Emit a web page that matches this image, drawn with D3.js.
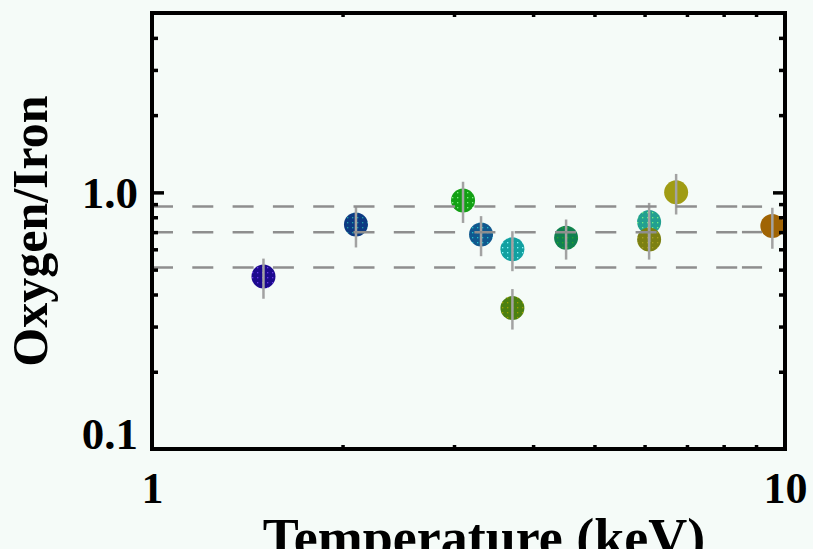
<!DOCTYPE html>
<html>
<head>
<meta charset="utf-8">
<script src="https://cdn.jsdelivr.net/npm/d3@7"></script>
<style>
  html, body { margin: 0; padding: 0; background: #f5fbf8; }
  svg { display: block; }
  text { font-family: "Liberation Serif", "DejaVu Serif", serif; font-weight: bold; fill: #000; }
</style>
</head>
<body>
<svg id="chart" width="813" height="549"></svg>
<script>
// Temperature (keV) of each cluster and its measured O/Fe ratio with error range
const temps    = [1.50, 2.10, 3.10, 3.31, 3.71, 3.71, 4.51, 6.10, 6.10, 6.73, 9.55];
const ratios   = [0.470, 0.750, 0.930, 0.685, 0.600, 0.354, 0.665, 0.766, 0.655, 1.000, 0.739];
const errLow   = [0.385, 0.610, 0.760, 0.564, 0.493, 0.292, 0.547, 0.640, 0.547, 0.820, 0.603];
const errHigh  = [0.552, 0.880, 1.100, 0.808, 0.706, 0.420, 0.784, 0.910, 0.770, 1.180, 0.871];
const fillColors = ["#1c0a8e", "#0c3a82", "#12a014", "#10588e", "#12a0a0", "#4c8010",
                    "#108050", "#22a090", "#7c8012", "#a09c14", "#a06404"];
const dotColors  = ["#6a3ae6", "#22a0a6", "#7ef07e", "#22c0c8", "#86f6f6", "#a0a000",
                    "#22a828", "#70f080", "#a8a020", "#a09c14", "#a06404"];

// Reference levels (horizontal dashed lines) and their extent in keV
const levels     = [0.88, 0.70, 0.51];
const levelSpan  = [1.0, 8.45];
const levelTail  = [8.55, 9.2];

// Axis ranges and ticks
const xDomain = [1, 10];
const yDomain = [0.1, 5];
const xMajorTicks = [1, 10];
const xMajorLabels = ["1", "10"];
const xMinorTicks = [2, 3, 4, 5, 6, 7, 8, 9];
const yMajorTicks = [0.1, 1];
const yMajorLabels = ["0.1", "1.0"];
const yMinorTicks = [0.2, 0.3, 0.4, 0.5, 0.6, 0.7, 0.8, 0.9, 2, 3, 4];

const xTitle = "Temperature (keV)";
const yTitle = "Oxygen/Iron";

const svg = d3.select("#chart");
const plot = { left: 152, right: 785, top: 13, bottom: 449 };

const x = d3.scaleLog().domain(xDomain).range([plot.left, plot.right]);
const y = d3.scaleLog().domain(yDomain).range([plot.bottom, plot.top]);

// Dotted fill textures for the markers
const defs = svg.append("defs");
temps.forEach((t, i) => {
  const p = defs.append("pattern")
    .attr("id", "dots-" + i)
    .attr("patternUnits", "userSpaceOnUse")
    .attr("width", 5).attr("height", 5);
  p.append("rect").attr("width", 5).attr("height", 5).attr("fill", fillColors[i]);
  p.append("rect").attr("x", 2).attr("y", 2).attr("width", 1.3).attr("height", 1.3)
    .attr("fill", dotColors[i]);
});

const pts = temps.map((t, i) => ({ t, r: ratios[i], lo: errLow[i], hi: errHigh[i], i }));

// Markers
svg.append("g").selectAll("circle").data(pts).join("circle")
  .attr("cx", d => x(d.t))
  .attr("cy", d => y(d.r))
  .attr("r", 12)
  .attr("fill", d => `url(#dots-${d.i})`);

// Error bars
svg.append("g").selectAll("line").data(pts).join("line")
  .attr("x1", d => x(d.t)).attr("x2", d => x(d.t))
  .attr("y1", d => y(d.hi)).attr("y2", d => y(d.lo))
  .attr("stroke", "#a2a2a2").attr("stroke-width", 2.5);

// Dashed reference levels
const lv = svg.append("g").attr("stroke", "#8e8e8e").attr("stroke-width", 2.5)
  .attr("stroke-dasharray", "21,19.3").attr("fill", "none");
levels.forEach(v => {
  lv.append("line").attr("x1", x(levelSpan[0])).attr("x2", x(levelSpan[1]))
    .attr("y1", y(v)).attr("y2", y(v));
  lv.append("line").attr("x1", x(levelTail[0])).attr("x2", x(levelTail[1]))
    .attr("y1", y(v)).attr("y2", y(v));
});

// Frame
svg.append("rect")
  .attr("x", plot.left).attr("y", plot.top)
  .attr("width", plot.right - plot.left).attr("height", plot.bottom - plot.top)
  .attr("fill", "none").attr("stroke", "#000").attr("stroke-width", 4);

// Inward tick marks on all four sides
function tickAxis(axisFn, scale, values, size, transform) {
  const g = svg.append("g").attr("transform", transform)
    .call(axisFn(scale).tickValues(values).tickSize(size).tickFormat(""));
  g.select(".domain").remove();
  g.selectAll(".tick line").attr("stroke", "#000").attr("stroke-width", 3.5);
  return g;
}
tickAxis(d3.axisBottom, x, xMinorTicks, -4, `translate(0,${plot.bottom})`);
tickAxis(d3.axisTop, x, xMinorTicks, -4, `translate(0,${plot.top})`);
tickAxis(d3.axisLeft, y, yMinorTicks, -6, `translate(${plot.left},0)`);
tickAxis(d3.axisRight, y, yMinorTicks, -6, `translate(${plot.right},0)`);
tickAxis(d3.axisLeft, y, [1], -12, `translate(${plot.left},0)`);
tickAxis(d3.axisRight, y, [1], -12, `translate(${plot.right},0)`);

// Tick labels
const yl = svg.append("g").attr("transform", `translate(${plot.left},0)`)
  .call(d3.axisLeft(y).tickValues(yMajorTicks).tickSize(0).tickPadding(14)
    .tickFormat((d, i) => yMajorLabels[i]));
yl.select(".domain").remove();
yl.selectAll("text").attr("font-size", 45).attr("font-family", null)
  .attr("dy", d => d === yDomain[0] ? "-0.02em" : "0.33em");

const xl = svg.append("g").attr("transform", `translate(0,${plot.bottom})`)
  .call(d3.axisBottom(x).tickValues(xMajorTicks).tickSize(0).tickPadding(0)
    .tickFormat((d, i) => xMajorLabels[i]));
xl.select(".domain").remove();
xl.selectAll("text").attr("font-size", 44).attr("font-family", null)
  .attr("y", 54).attr("dy", 0);

// Axis titles
svg.append("text")
  .attr("x", 484).attr("y", 556)
  .attr("text-anchor", "middle").attr("font-size", 54)
  .text(xTitle);

svg.append("text")
  .attr("transform", `translate(47,${(plot.top + plot.bottom) / 2}) rotate(-90)`)
  .attr("text-anchor", "middle").attr("font-size", 50)
  .text(yTitle);
</script>
</body>
</html>
